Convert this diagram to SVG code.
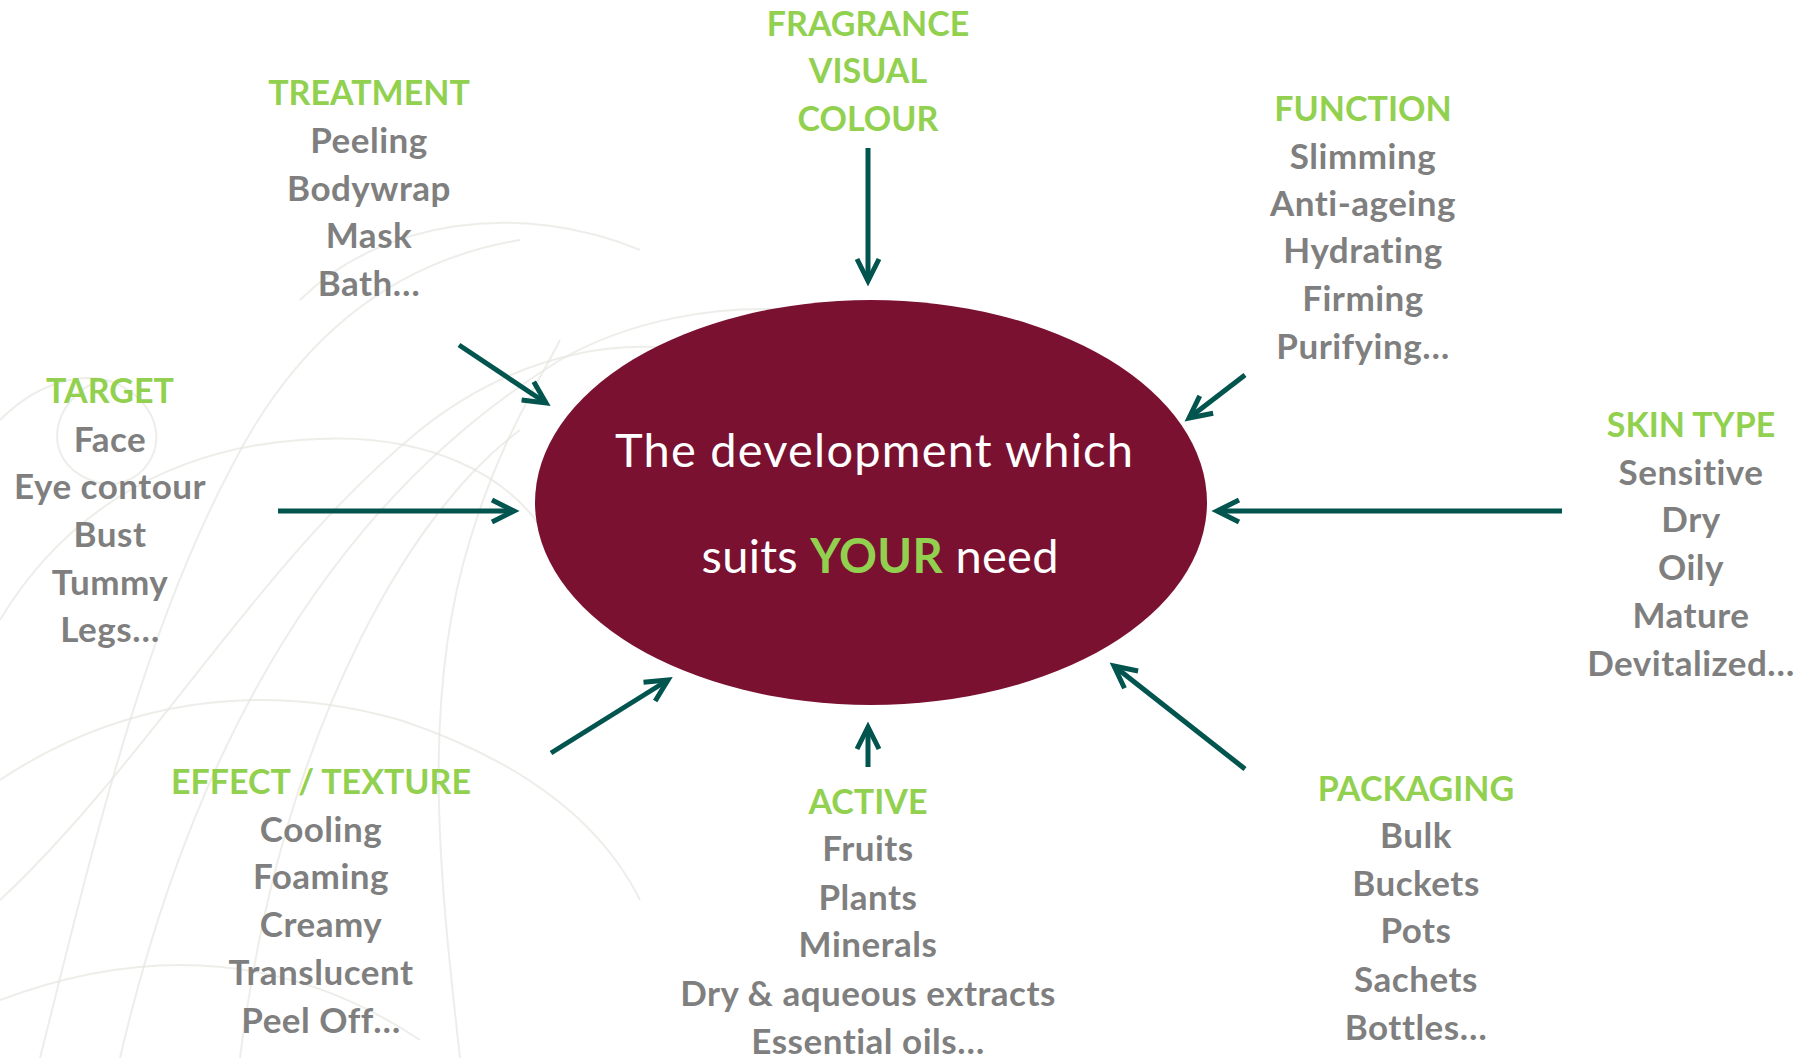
<svg xmlns="http://www.w3.org/2000/svg" width="1808" height="1058" viewBox="0 0 1808 1058">
  <defs>
    <style>
      .h { font-family: Lato, "Open Sans", sans-serif; font-weight: 700; font-size: 34px; fill: #92D050; text-anchor: middle; }
      .i { font-family: Lato, "Open Sans", sans-serif; font-weight: 700; font-size: 35px; letter-spacing: 0.5px; fill: #7F7F7F; text-anchor: middle; }
      .c { font-family: Lato, "Open Sans", sans-serif; font-weight: 400; font-size: 47px; fill: #FFFFFF; text-anchor: middle; }
      .y { font-weight: 700; fill: #92D050; }
      .arrow { stroke: #02544F; stroke-width: 5; fill: none; marker-end: url(#head); }
      .swirl { stroke: #E6E6E0; stroke-width: 2; fill: none; opacity: 0.7; }
    </style>
    <marker id="head" markerUnits="userSpaceOnUse" markerWidth="40" markerHeight="40" refX="0" refY="0" viewBox="-30 -20 40 40" orient="auto">
      <path d="M-22,-11 L0,0 L-22,11" stroke="#02544F" stroke-width="5" fill="none" stroke-linejoin="miter"/>
    </marker>
  </defs>
  <rect width="1808" height="1058" fill="#FFFFFF"/>

  <g id="background">
    <path class="swirl" d="M120,1058 C180,800 300,520 560,360 C700,280 900,300 1000,380"/>
    <path class="swirl" d="M0,900 C150,760 260,560 420,430 C520,350 640,330 720,360"/>
    <path class="swirl" d="M40,1058 C90,860 140,640 230,470 C300,330 400,260 520,240"/>
    <path class="swirl" d="M0,620 C60,520 160,450 300,440 C420,430 520,470 560,560"/>
    <path class="swirl" d="M240,1058 C260,900 300,760 360,640 C420,520 480,460 520,430"/>
    <path class="swirl" d="M0,420 C40,380 100,360 140,400 C180,440 140,500 90,480 C40,460 50,400 100,380"/>
    <path class="swirl" d="M460,1058 C440,880 420,700 470,540 C500,440 540,380 560,340"/>
    <path class="swirl" d="M0,780 C120,700 260,680 400,720 C520,760 600,820 640,900"/>
    <path class="swirl" d="M300,300 C380,220 520,200 640,250"/>
    <path class="swirl" d="M0,1000 C160,940 300,960 420,1040"/>
  </g>

  <g id="center">
    <ellipse cx="871" cy="502.5" rx="336" ry="202.5" fill="#7B1131"/>
    <text class="c" x="874" y="467" textLength="518" lengthAdjust="spacing">The development which</text>
    <text class="c" x="880" y="573" textLength="357" lengthAdjust="spacing">suits <tspan class="y">YOUR</tspan> need</text>
  </g>

  <g id="treatment">
    <text class="h" x="369" y="105">TREATMENT</text>
    <text class="i" x="369" y="153">Peeling</text>
    <text class="i" x="369" y="201">Bodywrap</text>
    <text class="i" x="369" y="248">Mask</text>
    <text class="i" x="369" y="296">Bath…</text>
  </g>

  <g id="fragrance">
    <text class="h" x="868" y="35.5">FRAGRANCE</text>
    <text class="h" x="868" y="83">VISUAL</text>
    <text class="h" x="868" y="131">COLOUR</text>
  </g>

  <g id="function">
    <text class="h" x="1363" y="121">FUNCTION</text>
    <text class="i" x="1363" y="169">Slimming</text>
    <text class="i" x="1363" y="216">Anti-ageing</text>
    <text class="i" x="1363" y="263">Hydrating</text>
    <text class="i" x="1363" y="311">Firming</text>
    <text class="i" x="1363" y="359">Purifying…</text>
  </g>

  <g id="target">
    <text class="h" x="110" y="403">TARGET</text>
    <text class="i" x="110" y="452">Face</text>
    <text class="i" x="110" y="499">Eye contour</text>
    <text class="i" x="110" y="547">Bust</text>
    <text class="i" x="110" y="595">Tummy</text>
    <text class="i" x="110" y="642">Legs…</text>
  </g>

  <g id="skin-type">
    <text class="h" x="1691" y="437">SKIN TYPE</text>
    <text class="i" x="1691" y="485">Sensitive</text>
    <text class="i" x="1691" y="532">Dry</text>
    <text class="i" x="1691" y="580">Oily</text>
    <text class="i" x="1691" y="628">Mature</text>
    <text class="i" x="1691" y="676">Devitalized…</text>
  </g>

  <g id="effect-texture">
    <text class="h" x="321" y="794">EFFECT / TEXTURE</text>
    <text class="i" x="321" y="842">Cooling</text>
    <text class="i" x="321" y="889">Foaming</text>
    <text class="i" x="321" y="937">Creamy</text>
    <text class="i" x="321" y="985">Translucent</text>
    <text class="i" x="321" y="1033">Peel Off…</text>
  </g>

  <g id="active">
    <text class="h" x="868" y="814">ACTIVE</text>
    <text class="i" x="868" y="861">Fruits</text>
    <text class="i" x="868" y="910">Plants</text>
    <text class="i" x="868" y="957">Minerals</text>
    <text class="i" x="868" y="1006">Dry &amp; aqueous extracts</text>
    <text class="i" x="868" y="1054">Essential oils…</text>
  </g>

  <g id="packaging">
    <text class="h" x="1416" y="801">PACKAGING</text>
    <text class="i" x="1416" y="848">Bulk</text>
    <text class="i" x="1416" y="896">Buckets</text>
    <text class="i" x="1416" y="943">Pots</text>
    <text class="i" x="1416" y="992">Sachets</text>
    <text class="i" x="1416" y="1040">Bottles…</text>
  </g>

  <g id="connectors">
    <line class="arrow" x1="278" y1="511" x2="514" y2="511"/>
    <line class="arrow" x1="459" y1="345" x2="546" y2="403"/>
    <line class="arrow" x1="868" y1="148" x2="868" y2="281"/>
    <line class="arrow" x1="1245" y1="375" x2="1189" y2="418"/>
    <line class="arrow" x1="1562" y1="511" x2="1217" y2="511"/>
    <line class="arrow" x1="551" y1="753" x2="668" y2="680"/>
    <line class="arrow" x1="868" y1="767" x2="868" y2="727"/>
    <line class="arrow" x1="1245" y1="769" x2="1114" y2="666"/>
  </g>
</svg>
